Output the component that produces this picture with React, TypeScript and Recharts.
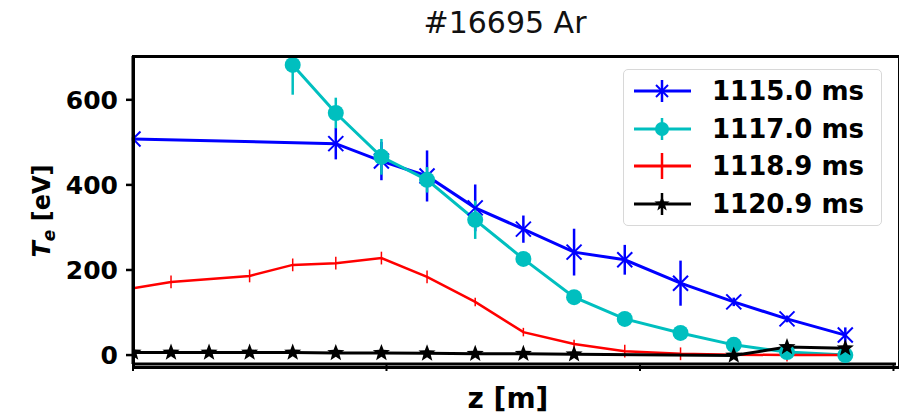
import React from 'react';
import { LineChart, Line, XAxis, YAxis, ErrorBar } from 'recharts';

// z positions (arbitrary scaled units, axis unlabeled in the reference)
const zBlue = [0, 0.080, 0.098, 0.116, 0.135, 0.154, 0.174, 0.194, 0.216, 0.237, 0.258, 0.281];
const teBlue = [508, 497, 456, 421, 346, 296, 242, 224, 169, 125, 85, 47];
const errBlue = [4, 37, 45, 60, 55, 32, 55, 35, 53, 10, 8, 18];

const zCyan = [0.063, 0.080, 0.098, 0.116, 0.135, 0.154, 0.174, 0.194, 0.216, 0.237, 0.258, 0.281];
const teCyan = [682, 569, 466, 412, 318, 226, 136, 85, 52, 24, 7, 0];
const errCyan = [70, 36, 42, 30, 45, 8, 8, 6, 5, 5, 5, 8];

const zRed = [0, 0.015, 0.046, 0.063, 0.080, 0.098, 0.116, 0.135, 0.154, 0.174, 0.194, 0.216, 0.237, 0.258, 0.281];
const teRed = [157, 172, 186, 212, 216, 228, 184, 125, 54, 26, 9, 3, 1, 0, 0];
const errRed = [15, 15, 15, 15, 15, 15, 15, 10, 10, 10, 15, 15, 10, 15, 10];

const zBlack = [0, 0.015, 0.030, 0.046, 0.063, 0.080, 0.098, 0.116, 0.135, 0.154, 0.174, 0.237, 0.258, 0.281];
const teBlack = [6, 6, 6, 6, 6, 5, 5, 4, 3, 3, 2, -1, 19, 16];
const errBlack = [4, 4, 4, 4, 4, 4, 4, 4, 4, 4, 4, 6, 6, 6];

const seriesNames = ['1115.0 ms', '1117.0 ms', '1118.9 ms', '1120.9 ms'];
const seriesColors = ['#0000ff', '#00bfbf', '#ff0000', '#000000'];
const yTicks = [0, 200, 400, 600];
const xTicks = [0, 0.1, 0.2, 0.3];
const titleText = '#16695 Ar';

const X_DOMAIN: [number, number] = [0, 0.301];
const Y_DOMAIN: [number, number] = [-21, 703];

// chart layout constants
const CHART_W = 899;
const CHART_H = 415;
const MARGIN = { top: 56, right: 3, bottom: 0, left: 0 };
const Y_AXIS_W = 133;
const X_AXIS_H = 51;

// error bars are clipped to the plotting window, like the reference
const build = (z: number[], te: number[], err: number[]) =>
  z.map((v, i) => ({
    z: v,
    te: te[i],
    err: [Math.min(err[i], te[i] - Y_DOMAIN[0]), Math.min(err[i], Y_DOMAIN[1] - te[i])],
  }));

const dataBlue = build(zBlue, teBlue, errBlue);
const dataCyan = build(zCyan, teCyan, errCyan);
const dataRed = build(zRed, teRed, errRed);
const dataBlack = build(zBlack, teBlack, errBlack);

const FONT = 'DejaVu Sans';

const starPoints = (cx: number, cy: number, R: number, r: number) => {
  const pts: string[] = [];
  for (let i = 0; i < 10; i++) {
    const ang = -Math.PI / 2 + (i * Math.PI) / 5;
    const rad = i % 2 === 0 ? R : r;
    pts.push(`${cx + rad * Math.cos(ang)},${cy + rad * Math.sin(ang)}`);
  }
  return pts.join(' ');
};

const XMark = ({ cx, cy, color, s = 7 }: any) => (
  <g>
    <line x1={cx - s} y1={cy - s} x2={cx + s} y2={cy + s} stroke={color} strokeWidth={2} />
    <line x1={cx - s} y1={cy + s} x2={cx + s} y2={cy - s} stroke={color} strokeWidth={2} />
  </g>
);

const renderX = (p: any) => {
  if (p.cx == null || p.cy == null) return <g key={p.key} />;
  return <XMark key={p.key} cx={p.cx} cy={p.cy} color={seriesColors[0]} s={7.5} />;
};
const renderCircle = (p: any) => {
  if (p.cx == null || p.cy == null) return <g key={p.key} />;
  return <circle key={p.key} cx={p.cx} cy={p.cy} r={8} fill={seriesColors[1]} stroke="none" />;
};
const renderStar = (p: any) => {
  if (p.cx == null || p.cy == null) return <g key={p.key} />;
  return <polygon key={p.key} points={starPoints(p.cx, p.cy, 9, 3.8)} fill="#000" stroke="none" />;
};

const legendIcons = [
  (c: string) => (
    <g>
      <line x1={2} y1={15} x2={59} y2={15} stroke={c} strokeWidth={3} />
      <line x1={30} y1={4} x2={30} y2={26} stroke={c} strokeWidth={2.5} />
      <XMark cx={30} cy={15} color={c} s={6} />
    </g>
  ),
  (c: string) => (
    <g>
      <line x1={2} y1={15} x2={59} y2={15} stroke={c} strokeWidth={3} />
      <line x1={30} y1={4} x2={30} y2={26} stroke={c} strokeWidth={2.5} />
      <circle cx={30} cy={15} r={7} fill={c} />
    </g>
  ),
  (c: string) => (
    <g>
      <line x1={2} y1={15} x2={59} y2={15} stroke={c} strokeWidth={3} />
      <line x1={30} y1={2} x2={30} y2={28} stroke={c} strokeWidth={2.5} />
    </g>
  ),
  (c: string) => (
    <g>
      <line x1={2} y1={15} x2={59} y2={15} stroke={c} strokeWidth={3} />
      <line x1={30} y1={4} x2={30} y2={26} stroke={c} strokeWidth={2.5} />
      <polygon points={starPoints(30, 15, 8, 3.3)} fill={c} />
    </g>
  ),
];

const legendRowCenters = [21, 58.5, 96, 134];
const frame = { stroke: '#000', strokeWidth: 3 };

// plotting-area frame derived from the chart layout constants
const plotLeft = MARGIN.left + Y_AXIS_W;
const plotTop = MARGIN.top;
const plotRight = CHART_W - MARGIN.right;
const plotBottom = CHART_H - MARGIN.bottom - X_AXIS_H;

export default function App() {
  return (
    <div style={{ position: 'absolute', left: 0, top: 0, width: CHART_W, height: CHART_H, background: '#fff', fontFamily: FONT }}>
      <div
        style={{
          position: 'absolute',
          left: 305,
          width: 400,
          top: 5,
          textAlign: 'center',
          fontSize: 30,
          lineHeight: '35px',
          color: '#111',
          fontFamily: FONT,
        }}
      >
        {titleText}
      </div>
      <LineChart width={CHART_W} height={CHART_H} margin={MARGIN} data={dataRed}>
        <XAxis
          dataKey="z"
          type="number"
          domain={X_DOMAIN}
          ticks={xTicks}
          allowDataOverflow
          tickFormatter={() => ''}
          axisLine={frame}
          tickSize={7}
          tickLine={{ stroke: '#000', strokeWidth: 2 }}
          height={X_AXIS_H}
          label={{
            content: () => (
              <text x={508} y={408} textAnchor="middle" fontFamily={FONT} fontWeight="bold" fontSize={28} fill="#000">
                z [m]
              </text>
            ),
          }}
        />
        <YAxis
          type="number"
          domain={Y_DOMAIN}
          ticks={yTicks}
          allowDataOverflow
          width={Y_AXIS_W}
          axisLine={frame}
          tickSize={7}
          tickMargin={8}
          tickLine={{ stroke: '#000', strokeWidth: 2.5 }}
          tick={{ fill: '#000', fontFamily: FONT, fontWeight: 'bold', fontSize: 25 }}
          label={{
            content: () => (
              <text
                x={50}
                y={211}
                transform="rotate(-90, 50, 211)"
                textAnchor="middle"
                fontFamily={FONT}
                fontWeight="bold"
                fontSize={24}
                fill="#000"
              >
                <tspan fontStyle="italic">T</tspan>
                <tspan fontStyle="italic" fontSize={17} dy={5}>e</tspan>
                <tspan dy={-5}> [eV]</tspan>
              </text>
            ),
          }}
        />
        <Line
          data={dataBlue}
          dataKey="te"
          name={seriesNames[0]}
          stroke={seriesColors[0]}
          strokeWidth={3}
          dot={renderX}
          activeDot={false}
          isAnimationActive={false}
        >
          <ErrorBar dataKey="err" direction="y" width={0} stroke={seriesColors[0]} strokeWidth={2.5} />
        </Line>
        <Line
          data={dataCyan}
          dataKey="te"
          name={seriesNames[1]}
          stroke={seriesColors[1]}
          strokeWidth={3}
          dot={renderCircle}
          activeDot={false}
          isAnimationActive={false}
        >
          <ErrorBar dataKey="err" direction="y" width={0} stroke={seriesColors[1]} strokeWidth={2.5} />
        </Line>
        <Line
          data={dataRed}
          dataKey="te"
          name={seriesNames[2]}
          stroke={seriesColors[2]}
          strokeWidth={2.5}
          dot={false}
          activeDot={false}
          isAnimationActive={false}
        >
          <ErrorBar dataKey="err" direction="y" width={0} stroke={seriesColors[2]} strokeWidth={1.5} />
        </Line>
        <Line
          data={dataBlack}
          dataKey="te"
          name={seriesNames[3]}
          stroke={seriesColors[3]}
          strokeWidth={3}
          dot={renderStar}
          activeDot={false}
          isAnimationActive={false}
        >
          <ErrorBar dataKey="err" direction="y" width={0} stroke={seriesColors[3]} strokeWidth={2} />
        </Line>
      </LineChart>
      <div
        style={{
          position: 'absolute',
          left: 623,
          top: 69,
          width: 257,
          height: 155,
          border: '1px solid #d8d8d8',
          borderRadius: 5,
          background: 'rgba(255,255,255,0.85)',
        }}
      >
        {seriesNames.map((n, i) => (
          <div key={n} style={{ position: 'absolute', left: 0, top: legendRowCenters[i] - 15, height: 30, width: 257 }}>
            <svg width={62} height={30} style={{ position: 'absolute', left: 8, top: 0 }}>
              {legendIcons[i](seriesColors[i])}
            </svg>
            <div
              style={{
                position: 'absolute',
                left: 88,
                top: 0,
                lineHeight: '30px',
                fontSize: 26,
                fontWeight: 'bold',
                color: '#000',
                fontFamily: FONT,
                whiteSpace: 'nowrap',
              }}
            >
              {n}
            </div>
          </div>
        ))}
      </div>
      <div
        style={{
          position: 'absolute',
          left: plotLeft - 1.5,
          top: plotTop - 1.5,
          width: plotRight - plotLeft,
          height: plotBottom - plotTop,
          border: '3px solid #000',
          boxSizing: 'content-box',
          pointerEvents: 'none',
          zIndex: 10,
        }}
      />
    </div>
  );
}
